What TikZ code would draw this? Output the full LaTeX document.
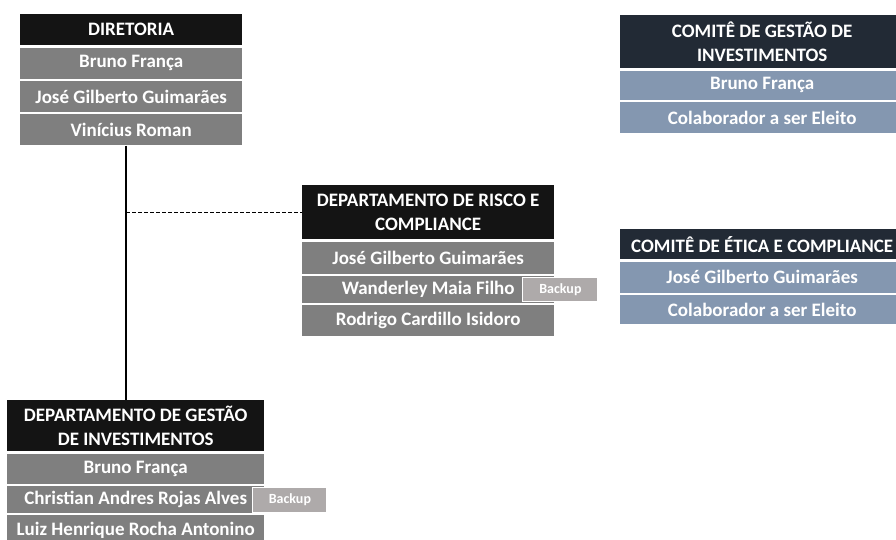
\documentclass[tikz,border=0pt]{standalone}
\usepackage{fontspec}
\setmainfont{Carlito}
\usetikzlibrary{positioning}
\definecolor{headblack}{HTML}{141414}
\definecolor{headnavy}{HTML}{222A35}
\definecolor{rowgray}{HTML}{7F7F7F}
\definecolor{rowslate}{HTML}{8497B0}
\definecolor{backupgray}{HTML}{AEAAAA}

\begin{document}
\begin{tikzpicture}[x=1pt,y=-1pt]
    % Box style
    \tikzset{
        box/.style={inner sep=0pt, text=white, align=center,
            font=\bfseries\fontsize{19}{23.5}\selectfont},
        head/.style={box, fill=headblack, anchor=north west},
        member/.style={box, fill=rowgray},
        comhead/.style={box, fill=headnavy, anchor=north west},
        commember/.style={box, fill=rowslate},
        backup/.style={box, fill=backupgray, draw=white, line width=1pt,
            font=\bfseries\fontsize{14}{16}\selectfont},
    }
    \clip (0,0) rectangle (896,539);
    \fill[white] (0,0) rectangle (896,539);

    % Diretoria
    \node[head, minimum width=222pt, minimum height=31pt] (dir) at (20,14) {DIRETORIA};
    \node[member, minimum width=222pt, minimum height=31pt, below=2pt of dir] (dira) {Bruno França};
    \node[member, minimum width=222pt, minimum height=31pt, below=2pt of dira] (dirb) {José Gilberto Guimarães};
    \node[member, minimum width=222pt, minimum height=31pt, below=2pt of dirb] (dirc) {Vinícius Roman};

    % Departamento de risco e compliance
    \node[head, minimum width=252pt, minimum height=54pt] (risco) at (302,185) {DEPARTAMENTO DE RISCO E\\COMPLIANCE};
    \node[member, minimum width=252pt, minimum height=32pt, below=2pt of risco] (riscoa) {José Gilberto Guimarães};
    \node[member, minimum width=252pt, minimum height=27pt, below=2pt of riscoa] (riscob) {Wanderley Maia Filho};
    \node[member, minimum width=252pt, minimum height=31pt, below=2pt of riscob] (riscoc) {Rodrigo Cardillo Isidoro};
    \node[backup, minimum width=75pt, minimum height=24pt, right=-32pt of riscob] (riscobk) {Backup};

    % Departamento de gestao de investimentos
    \node[head, minimum width=257pt, minimum height=51pt] (gestao) at (7,400) {DEPARTAMENTO DE GESTÃO\\DE INVESTIMENTOS};
    \node[member, minimum width=257pt, minimum height=30pt, below=2pt of gestao] (gestaoa) {Bruno França};
    \node[member, minimum width=257pt, minimum height=27pt, below=2pt of gestaoa] (gestaob) {Christian Andres Rojas Alves};
    \node[member, minimum width=257pt, minimum height=30pt, below=2pt of gestaob] (gestaoc) {Luiz Henrique Rocha Antonino};
    \node[backup, minimum width=74pt, minimum height=25pt, right=-12pt of gestaob] (gestaobk) {Backup};

    % Comites
    \node[comhead, minimum width=284pt, minimum height=53pt] (cgi) at (620,15) {COMITÊ DE GESTÃO DE\\INVESTIMENTOS};
    \node[commember, minimum width=284pt, minimum height=29pt, below=2pt of cgi] (cgia) {Bruno França};
    \node[commember, minimum width=284pt, minimum height=31pt, below=2pt of cgia] (cgib) {Colaborador a ser Eleito};

    \node[comhead, minimum width=284pt, minimum height=30pt] (cec) at (620,229) {COMITÊ DE ÉTICA E COMPLIANCE};
    \node[commember, minimum width=284pt, minimum height=31pt, below=2pt of cec] (ceca) {José Gilberto Guimarães};
    \node[commember, minimum width=284pt, minimum height=29pt, below=2pt of ceca] (cecb) {Colaborador a ser Eleito};

    % Connection
    \coordinate (spine) at (126,0);
    \draw[line width=1.2pt] (dirc.south -| spine) -- (gestao.north -| spine);
    \draw[line width=1pt, dash pattern=on 4pt off 2pt] (spine |- risco.west) -- (risco.west);
\end{tikzpicture}
\end{document}
